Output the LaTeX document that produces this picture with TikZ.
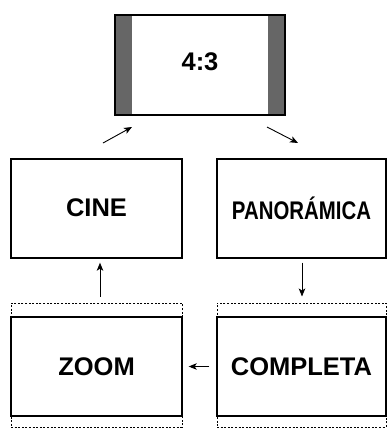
\documentclass[tikz,border=0pt]{standalone}
\usepackage{fontspec}
\setmainfont{Liberation Sans}
\usetikzlibrary{arrows.meta}
\definecolor{bargray}{HTML}{666666}
\begin{document}
\begin{tikzpicture}[x=1pt,y=-1pt,
  lbl/.style={font=\fontsize{25.5}{30}\selectfont\bfseries},
  framebox/.style={draw, line width=1.4pt, minimum width=171pt, minimum height=99pt, inner sep=0pt, lbl},
  dotframe/.style={draw, dash pattern=on 2pt off 1.6pt, line width=1pt, minimum width=171pt, minimum height=124pt, inner sep=0pt},
  conn/.style={line width=0.9pt, -{Stealth[length=8pt,width=6.5pt,inset=2pt]}}]
\useasboundingbox (0,0) rectangle (387,429);
% top 4:3 screen
\node[minimum width=170pt, minimum height=100pt, inner sep=0pt] (top) at (200,65) {};
\fill[bargray] (top.north west) rectangle ([xshift=17pt]top.south west);
\fill[bargray] ([xshift=-17pt]top.north east) rectangle (top.south east);
\draw[line width=2pt] (top.north west) rectangle (top.south east);
\node[lbl] (t43) at ([yshift=3pt]top.center) {4:3};
% middle row
\node[framebox] (cine) at (96.5,208.5) {\raisebox{2pt}{CINE}};
\node[framebox, minimum width=169pt] (pano) at (301.5,208.5) {\scalebox{0.8}[1]{PANOR\'AMICA}};
% bottom row
\node[dotframe] (zoomf) at (96.5,365) {};
\node[framebox] (zoom) at (96.5,366.5) {ZOOM};
\node[dotframe, minimum width=169pt] (compf) at (301.5,365) {};
\node[framebox, minimum width=169pt] (comp) at (301.5,366.5) {COMPLETA};
% connectors
\coordinate (c1s) at (103,143);
\coordinate (c1e) at (132,127);
\coordinate (c2s) at (267,127);
\coordinate (c2e) at (298,143);
\coordinate (upx) at (100,0);
\coordinate (dnx) at (302,0);
\draw[conn] (c1s) -- (c1e);
\draw[conn] (c2s) -- (c2e);
\draw[conn] ([yshift=6pt]zoomf.north -| upx) -- ([yshift=-4pt]cine.south -| upx);
\draw[conn] ([yshift=-4pt]pano.south -| dnx) -- ([yshift=6pt]compf.north -| dnx);
\draw[conn] ([xshift=-7pt]comp.west) -- ([xshift=6pt]zoom.east);
\end{tikzpicture}
\end{document}
